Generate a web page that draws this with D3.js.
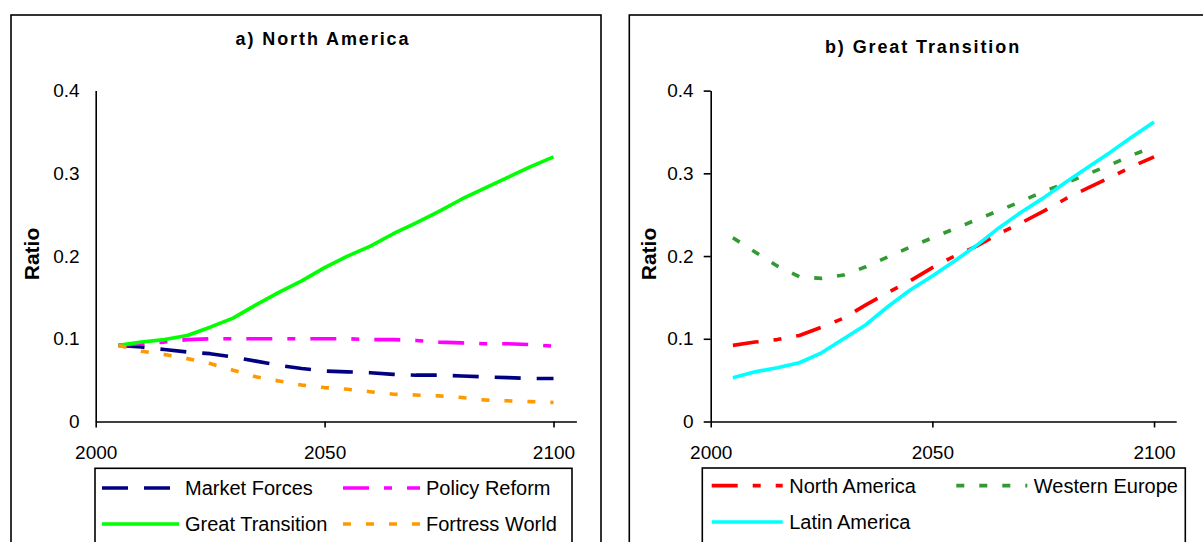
<!DOCTYPE html>
<html>
<head>
<meta charset="utf-8">
<script src="https://cdn.jsdelivr.net/npm/d3@7/dist/d3.min.js"></script>
<style>
  body { margin: 0; background: #fff; }
  svg { display: block; font-family: "Liberation Sans", Arial, sans-serif; }
</style>
</head>
<body>
<svg id="chart" width="1203" height="542"></svg>
<script>
// Ratio scenarios - two panels

const years = [2005, 2010, 2015, 2020, 2025, 2030, 2035, 2040, 2045, 2050,
               2055, 2060, 2065, 2070, 2075, 2080, 2085, 2090, 2095, 2100];
const xTicks = [2000, 2050, 2100];
const yTicks = [0, 0.1, 0.2, 0.3, 0.4];

// a) North America, by scenario
const marketForces    = [0.092, 0.090, 0.087, 0.084, 0.082, 0.078, 0.073, 0.068, 0.064, 0.061,
                         0.060, 0.059, 0.057, 0.056, 0.056, 0.055, 0.054, 0.053, 0.052, 0.052];
const policyReform    = [0.092, 0.094, 0.096, 0.099, 0.100, 0.100, 0.100, 0.100, 0.100, 0.100,
                         0.100, 0.099, 0.099, 0.098, 0.096, 0.095, 0.094, 0.094, 0.093, 0.091];
const greatTransition = [0.092, 0.096, 0.099, 0.104, 0.114, 0.125, 0.141, 0.156, 0.170, 0.186,
                         0.200, 0.212, 0.227, 0.240, 0.254, 0.269, 0.282, 0.295, 0.308, 0.320];
const fortressWorld   = [0.092, 0.085, 0.081, 0.076, 0.070, 0.062, 0.054, 0.049, 0.044, 0.041,
                         0.039, 0.036, 0.033, 0.032, 0.031, 0.029, 0.026, 0.025, 0.024, 0.023];

// b) Great Transition, by region
const northAmerica    = [0.092, 0.096, 0.099, 0.104, 0.114, 0.125, 0.141, 0.156, 0.170, 0.186,
                         0.200, 0.212, 0.227, 0.240, 0.254, 0.269, 0.282, 0.295, 0.308, 0.320];
const westernEurope   = [0.222, 0.205, 0.188, 0.175, 0.173, 0.177, 0.187, 0.199, 0.211, 0.222,
                         0.233, 0.244, 0.255, 0.266, 0.278, 0.288, 0.299, 0.310, 0.322, 0.332];
const latinAmerica    = [0.053, 0.060, 0.065, 0.071, 0.083, 0.100, 0.117, 0.139, 0.159, 0.176,
                         0.194, 0.213, 0.234, 0.253, 0.270, 0.289, 0.307, 0.325, 0.344, 0.362];

const LONG_DASH = '26,16';
const DASH_DOT = '26,15,8,15';
const SHORT_DASH = '8,15';

const panels = [
    {
        title: 'a) North America',
        box: { x: 11, y: 15, w: 590 },
        titleX: 323, titleY: 44.5,
        xRange: [95.7, 576.4],
        yTickSize: 0, yTickPad: 16,
        ratioX: 31.5,
        legend: { x: 95, y: 468.3, w: 477, rows: [488, 524], cols: [7, 248], textOff: 83, sample: 77 },
        series: [
            { name: 'Market Forces', values: marketForces, color: '#000080', dash: LONG_DASH },
            { name: 'Policy Reform', values: policyReform, color: '#ff00ff', dash: DASH_DOT },
            { name: 'Great Transition', values: greatTransition, color: '#00ff00', dash: null },
            { name: 'Fortress World', values: fortressWorld, color: '#ff9900', dash: SHORT_DASH }
        ]
    },
    {
        title: 'b) Great Transition',
        box: { x: 629.3, y: 15, w: 700 },
        titleX: 923, titleY: 53,
        xRange: [710.7, 1176.2],
        yTickSize: 7, yTickPad: 10,
        ratioX: 648.5,
        legend: { x: 702.3, y: 468, w: 483, rows: [485.6, 522], cols: [9.4, 254], textOff: 77.5, sample: 71 },
        series: [
            { name: 'North America', values: northAmerica, color: '#ff0000', dash: DASH_DOT },
            { name: 'Western Europe', values: westernEurope, color: '#339933', dash: SHORT_DASH },
            { name: 'Latin America', values: latinAmerica, color: '#00ffff', dash: null }
        ]
    }
];

const svg = d3.select('#chart');

const y = d3.scaleLinear().domain([0, 0.4]).range([421.5, 90.6]);

function drawPanel(p) {
    const g = svg.append('g');

    // Outer frame (runs off the bottom/right like the original crop)
    g.append('rect')
        .attr('x', p.box.x).attr('y', p.box.y)
        .attr('width', p.box.w).attr('height', 600)
        .attr('fill', 'none').attr('stroke', '#000').attr('stroke-width', 1.6);

    // Title
    g.append('text')
        .attr('x', p.titleX).attr('y', p.titleY)
        .attr('text-anchor', 'middle')
        .attr('font-size', 18).attr('font-weight', 'bold')
        .attr('letter-spacing', '1.9px')
        .text(p.title);

    const x = d3.scaleLinear().domain([2000, 2105]).range(p.xRange);

    // Axes
    const xAxis = d3.axisBottom(x)
        .tickValues(xTicks)
        .tickFormat(d3.format('d'))
        .tickSizeInner(6).tickSizeOuter(0).tickPadding(18);
    const yAxis = d3.axisLeft(y)
        .tickValues(yTicks)
        .tickFormat(d3.format('~g'))
        .tickSizeInner(p.yTickSize).tickSizeOuter(0).tickPadding(p.yTickPad);

    const gx = g.append('g')
        .attr('transform', `translate(0,${y(0)})`)
        .call(xAxis);
    const gy = g.append('g')
        .attr('transform', `translate(${p.xRange[0]},0)`)
        .call(yAxis);

    [gx, gy].forEach(a => {
        a.selectAll('path, line').attr('stroke', '#000').attr('stroke-width', 1.6);
        a.selectAll('text')
            .attr('font-family', '"Liberation Sans", Arial, sans-serif')
            .attr('font-size', 19).attr('fill', '#000');
    });

    // Y label
    g.append('text')
        .attr('transform', `translate(${p.ratioX},254) rotate(-90)`)
        .attr('text-anchor', 'middle')
        .attr('dominant-baseline', 'central')
        .attr('font-size', 21).attr('font-weight', 'bold')
        .text('Ratio');

    // Series lines
    const line = d3.line()
        .x((d, i) => x(years[i]))
        .y(d => y(d));

    p.series.forEach(s => {
        g.append('path')
            .datum(s.values)
            .attr('d', line)
            .attr('fill', 'none')
            .attr('stroke', s.color)
            .attr('stroke-width', 3.6)
            .attr('stroke-linejoin', 'round')
            .attr('stroke-dasharray', s.dash);
    });

    // Legend
    const L = p.legend;
    g.append('rect')
        .attr('x', L.x).attr('y', L.y)
        .attr('width', L.w).attr('height', 120)
        .attr('fill', '#fff').attr('stroke', '#000').attr('stroke-width', 1.6);

    p.series.forEach((s, i) => {
        const cx = L.x + L.cols[i % 2];
        const cy = L.rows[Math.floor(i / 2)];
        g.append('line')
            .attr('x1', cx).attr('x2', cx + L.sample)
            .attr('y1', cy).attr('y2', cy)
            .attr('stroke', s.color)
            .attr('stroke-width', 3.6)
            .attr('stroke-dasharray', s.dash);
        g.append('text')
            .attr('x', cx + L.textOff).attr('y', cy)
            .attr('dominant-baseline', 'central')
            .attr('font-size', 20)
            .text(s.name);
    });
}

panels.forEach(drawPanel);
</script>
</body>
</html>
